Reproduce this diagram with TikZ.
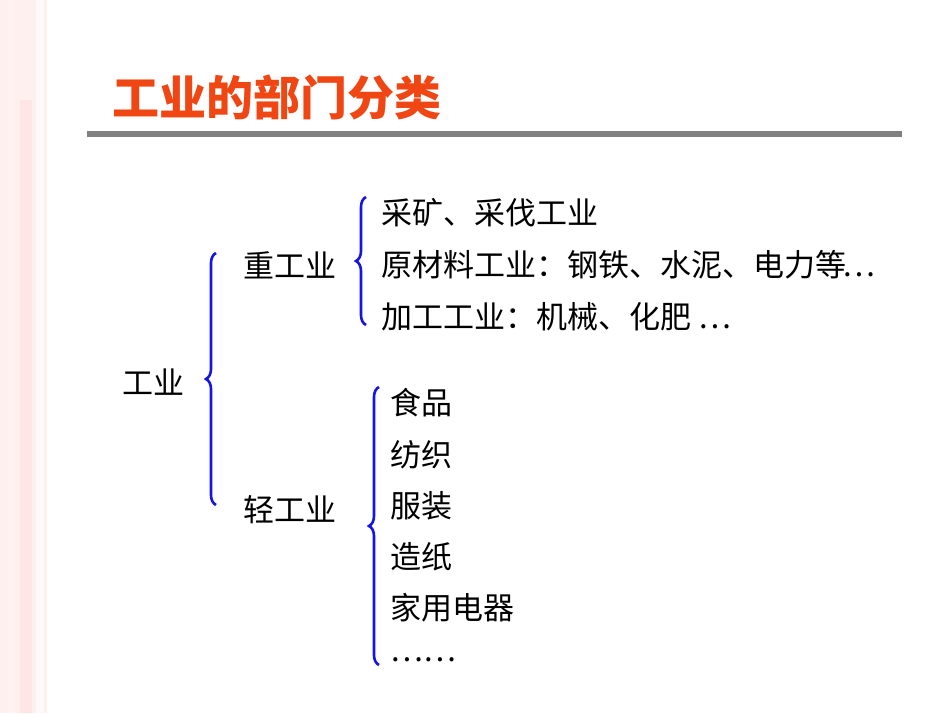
\documentclass[tikz,border=0pt]{standalone}
\usepackage{fontspec}
\setmainfont{Noto Sans CJK SC}
\usetikzlibrary{decorations.pathreplacing}
\begin{document}
\begin{tikzpicture}[x=1pt,y=-1pt,
  txt/.style={anchor=west,inner sep=0pt,font=\fontsize{31}{34}\selectfont},
  br/.style={draw={rgb,255:red,20;green,20;blue,230},line width=2.6pt,decorate,decoration={brace,mirror,amplitude=10pt,aspect=0.5}}]
\useasboundingbox (0,0) rectangle (950,713);
\fill[white] (0,0) rectangle (950,713);
\fill[red!6] (0,0) rectangle (47,713);
\fill[red!10] (20,100) rectangle (32,713);
\fill[red!5] (8,0) rectangle (14,713);
\fill[white!70!red!8] (36,0) rectangle (44,713);
\node[anchor=west,inner sep=0pt,text={rgb,255:red,240;green,70;blue,20},font=\fontsize{47}{50}\bfseries\selectfont] (title) at (112,97) {工业的部门分类};
\fill[gray] (87,131) rectangle (902,137);
\node[txt] (gy) at (122,382) {工业};
\node[txt] (zg) at (243,265) {重工业};
\node[txt] (qg) at (243,510) {轻工业};
\node[txt] (h1) at (381,213) {采矿、采伐工业};
\node[txt] (h2) at (381,265) {原材料工业：钢铁、水泥、电力等\kern-4pt…};
\node[txt] (h3) at (381,317) {加工工业：机械、化肥 …};
\node[txt] (l1) at (390,403) {食品};
\node[txt] (l2) at (390,455) {纺织};
\node[txt] (l3) at (390,506) {服装};
\node[txt] (l4) at (390,557) {造纸};
\node[txt] (l5) at (390,608) {家用电器};
\node[txt] (l6) at (390,660) {……};
\coordinate (a1) at (216,253); \coordinate (a2) at (216,505);
\coordinate (b1) at (366,197); \coordinate (b2) at (366,325);
\coordinate (c1) at (379,387); \coordinate (c2) at (379,665);
\draw[br] (a1) -- (a2);
\draw[br] (b1) -- (b2);
\draw[br] (c1) -- (c2);
\end{tikzpicture}
\end{document}
